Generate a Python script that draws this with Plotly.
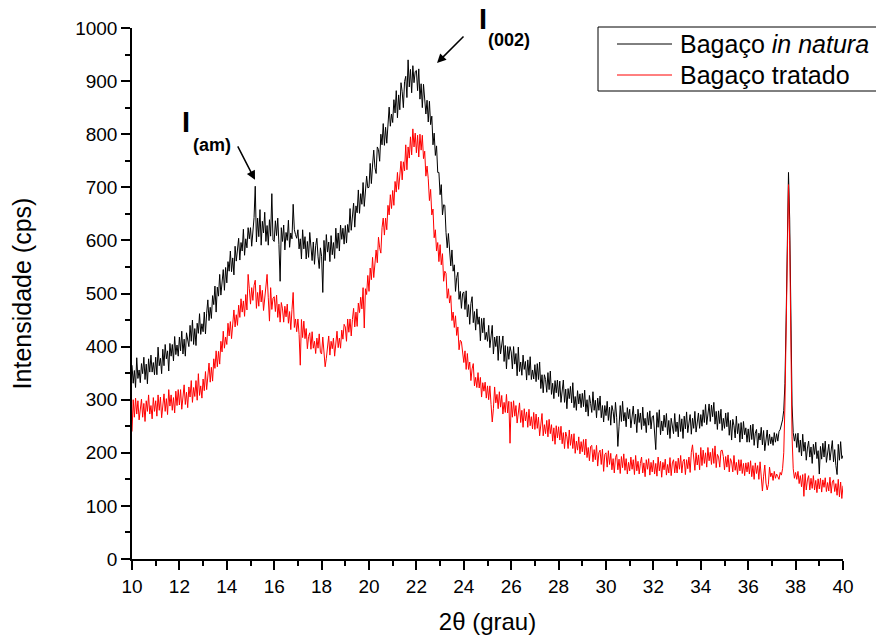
import plotly.graph_objects as go

# 2-theta sampled every 0.05 deg; one row per degree (10..40)
black_rows = [
    [365,331,355,323,379,340,356,332,368,349,380,338,367,330,377,352,384,352,370,347],
    [380,347,399,364,378,349,395,364,404,377,392,354,406,382,404,373,419,385,403,382],
    [418,392,429,386,414,382,426,416,400,440,410,450,404,434,402,444,425,462,423,443],
    [428,465,424,463,488,449,474,453,496,479,514,465,512,495,536,497,526,545,506,549],
    [520,560,542,580,541,567,535,589,561,579,604,563,596,580,621,572,603,586,624,603],
    [624,589,620,643,702,597,642,607,658,591,636,614,653,598,628,591,639,608,688,601],
    [598,637,609,642,592,523,624,598,629,582,615,600,638,587,614,603,668,620,611,604],
    [620,584,603,565,620,584,607,565,598,568,615,580,562,597,555,590,604,569,547,586],
    [570,502,600,562,611,578,597,560,609,573,596,566,623,585,614,580,629,602,623,593],
    [628,595,630,615,660,619,645,670,625,665,652,695,651,688,668,709,664,704,721,699],
    [700,745,707,742,770,737,726,776,771,749,800,780,820,779,813,783,829,851,815,838],
    [822,865,840,882,831,874,846,897,880,850,899,909,869,940,889,922,878,929,897,918],
    [920,882,923,866,895,850,894,870,838,864,823,862,818,834,780,802,760,778,728,728],
    [686,705,648,667,666,615,586,613,584,552,582,542,554,504,530,540,489,504,472,500],
    [503,470,505,456,479,442,481,494,445,466,431,471,442,456,411,453,426,454,413,427],
    [410,440,398,420,440,386,418,400,420,374,420,386,400,420,372,402,358,400,376,400],
    [390,358,400,367,387,345,399,353,371,346,384,357,372,337,375,346,381,338,356,339],
    [366,334,368,338,371,321,347,313,347,338,314,351,319,354,310,331,302,336,313,337],
    [306,335,295,320,337,295,320,283,321,302,325,294,332,285,306,280,317,292,311,285],
    [312,287,318,277,300,269,308,293,276,315,280,299,266,303,280,307,266,289,258,289],
    [270,297,261,286,252,289,278,256,295,267,212,250,289,259,297,260,276,249,285,264],
    [282,247,273,288,254,273,238,282,257,275,244,286,251,265,238,276,252,279,245,268],
    [270,241,206,276,248,281,234,260,241,271,248,274,234,261,227,265,252,236,274,240],
    [258,230,272,240,264,227,269,245,277,238,256,272,235,265,246,278,239,262,275,246],
    [272,250,281,257,291,253,276,292,259,290,268,295,254,278,244,279,255,282,242,265],
    [246,275,249,276,233,261,224,263,251,228,269,236,255,220,257,226,259,234,247,220],
    [245,220,252,225,254,214,237,244,209,237,224,248,215,242,204,229,243,214,235,217],
    [230,214,238,220,236,222,240,244,252,262,280,330,450,620,728,640,430,290,238,222],
    [236,210,237,201,224,194,235,203,220,186,209,222,192,211,180,216,197,220,189,204],
    [160,212,188,218,192,222,182,206,216,186,202,223,183,206,176,159,216,186,221,189],
    [195],
]

red_rows = [
    [240,300,267,303,273,298,262,288,301,267,293,259,298,278,309,273,289,264,304,278],
    [298,269,309,280,305,266,297,311,278,302,272,319,288,309,280,304,275,316,289,319],
    [290,319,282,309,328,291,314,285,324,305,336,295,323,306,336,299,349,308,326,303],
    [339,317,353,319,347,369,333,361,335,377,359,392,362,391,367,410,390,429,397,418],
    [404,444,420,447,415,451,469,437,460,440,478,455,490,465,486,457,498,469,536,509],
    [480,511,487,515,525,472,502,476,516,484,506,468,495,505,536,492,448,511,470,491],
    [494,466,497,455,480,446,483,471,446,476,456,480,444,466,432,470,502,436,452,428],
    [452,423,365,451,417,448,415,434,396,419,426,395,428,397,410,387,416,397,424,389],
    [386,418,392,362,378,406,420,384,410,396,416,382,413,429,398,416,397,431,414,442],
    [437,410,452,427,452,420,451,472,437,465,438,482,464,493,471,511,435,509,498,534],
    [504,548,526,568,530,568,582,558,606,586,576,624,642,610,642,620,666,648,686,660],
    [694,666,711,691,728,696,725,749,714,748,731,780,733,776,755,795,761,810,776,802],
    [765,798,757,800,770,798,754,768,721,740,716,675,696,648,659,605,620,580,596,560],
    [592,554,575,523,542,538,491,509,482,496,449,465,436,458,421,437,394,412,409,381],
    [370,392,357,387,357,371,336,358,368,326,342,323,351,322,342,305,332,316,333,303],
    [326,300,326,291,258,283,324,294,310,283,315,286,308,273,295,276,310,275,297,218],
    [296,267,298,269,289,256,279,294,257,280,248,283,260,277,248,282,251,268,245,276],
    [244,273,246,267,232,261,274,232,253,236,261,230,263,236,253,222,247,216,251,228],
    [249,224,250,217,238,208,239,230,208,243,214,235,208,236,199,222,205,230,198,221],
    [202,225,196,226,191,210,185,212,214,183,206,187,214,175,200,205,178,207,165,197],
    [200,173,204,178,199,168,189,162,191,197,168,188,161,193,172,198,167,189,160,182],
    [166,192,169,187,159,195,166,184,160,180,192,162,181,155,187,169,189,158,182,164],
    [186,160,180,156,192,166,184,154,182,168,188,158,178,162,191,157,181,187,162,184],
    [162,190,169,195,162,184,188,159,187,170,192,163,201,215,187,167,200,177,196,168],
    [210,176,205,180,200,173,210,185,201,178,208,180,213,172,197,192,173,204,205,193],
    [168,193,173,196,164,189,183,164,195,167,182,159,187,166,187,161,180,157,181,164],
    [182,160,185,155,176,150,181,161,176,150,183,153,128,156,177,143,130,140,173,155],
    [162,148,165,152,160,155,150,163,158,170,200,290,430,600,705,600,380,230,170,152],
    [163,150,165,142,157,136,159,118,161,130,149,157,130,152,133,157,130,148,125,151],
    [132,152,126,149,135,153,127,144,128,154,124,145,149,127,142,120,150,117,145,114],
    [138],
]

x_start = 10
x_step = 0.05
series_names = ["Bagaço <i>in natura</i>", "Bagaço tratado"]
series_colors = ["#000000", "#ff0000"]
x_ticks = list(range(10, 41, 2))
y_ticks = list(range(0, 1001, 100))


def flatten(rows):
    xs, ys = [], []
    for i, row in enumerate(rows):
        for k, v in enumerate(row):
            xs.append(round(x_start + i + k * x_step, 2))
            ys.append(v)
    return xs, ys


fig = go.Figure()
for rows, name, color in zip([black_rows, red_rows], series_names, series_colors):
    xs, ys = flatten(rows)
    fig.add_trace(go.Scatter(x=xs, y=ys, mode="lines", name=name,
                             line=dict(color=color, width=1), showlegend=False))

font_main = "Arial, Liberation Sans, sans-serif"

# plot-area geometry in pixels (used to place legend box / labels in paper units)
L, R, T, B = 132, 843, 28, 559
W, H = R - L, B - T


def px(xp):
    return (xp - L) / W


def py(yp):
    return (B - yp) / H


fig.update_layout(
    width=876, height=639,
    margin=dict(l=L, r=876 - R, t=T, b=639 - B),
    paper_bgcolor="white", plot_bgcolor="white",
    font=dict(family=font_main, color="black"),
    showlegend=False,
    xaxis=dict(range=[10, 40], tickmode="array", tickvals=x_ticks,
               ticktext=[str(t) for t in x_ticks], automargin=False,
               ticks="outside", ticklen=9, tickwidth=1.5, tickcolor="black",
               showline=True, linecolor="black", linewidth=1.5,
               showgrid=False, zeroline=False,
               minor=dict(dtick=1, ticks="outside", ticklen=5, tickwidth=1.5,
                          tickcolor="black", showgrid=False),
               tickfont=dict(size=19),
               title=dict(text="2θ (grau)", font=dict(size=24), standoff=18)),
    yaxis=dict(range=[0, 1000], tickmode="array", tickvals=y_ticks,
               ticktext=[str(t) for t in y_ticks], automargin=False,
               ticks="outside", ticklen=9, tickwidth=1.5, tickcolor="black",
               showline=True, linecolor="black", linewidth=1.5,
               showgrid=False, zeroline=False,
               minor=dict(dtick=50, ticks="outside", ticklen=5, tickwidth=1.5,
                          tickcolor="black", showgrid=False),
               tickfont=dict(size=19),
               title=dict(text="Intensidade (cps)", font=dict(size=25),
                          standoff=36)),
)

# legend drawn as box + sample lines + labels
fig.add_shape(type="rect", xref="paper", yref="paper",
              x0=px(598), x1=px(890), y0=py(91), y1=py(27),
              line=dict(color="black", width=1), fillcolor="white", layer="above")
for (label, color, yrow) in zip(series_names, series_colors, [44, 75]):
    fig.add_shape(type="line", xref="paper", yref="paper",
                  x0=px(617), x1=px(672), y0=py(yrow), y1=py(yrow),
                  line=dict(color=color, width=1), layer="above")
    fig.add_annotation(xref="paper", yref="paper", x=px(678), y=py(yrow),
                       xanchor="left", yanchor="middle", text=label,
                       showarrow=False, font=dict(size=25, family=font_main))

# peak labels
labels = [("<b>I</b>", 185.5, 122, 29), ("<b>(am)</b>", 212, 145, 18),
          ("<b>I</b>", 482.5, 19, 29), ("<b>(002)</b>", 509, 39.5, 18)]
for text, lx, ly, size in labels:
    fig.add_annotation(xref="paper", yref="paper", x=px(lx), y=py(ly),
                       xanchor="center", yanchor="middle", text=text,
                       showarrow=False, font=dict(size=size))
# arrows
fig.add_annotation(x=15.19, y=714, xref="x", yref="y", ax=-18, ay=-35, text="",
                   showarrow=True, arrowhead=2, arrowsize=1.2, arrowwidth=1.5,
                   arrowcolor="black")
fig.add_annotation(x=22.87, y=934, xref="x", yref="y", ax=28, ay=-28, text="",
                   showarrow=True, arrowhead=2, arrowsize=1.2, arrowwidth=1.5,
                   arrowcolor="black")

fig.write_html("out.html")
